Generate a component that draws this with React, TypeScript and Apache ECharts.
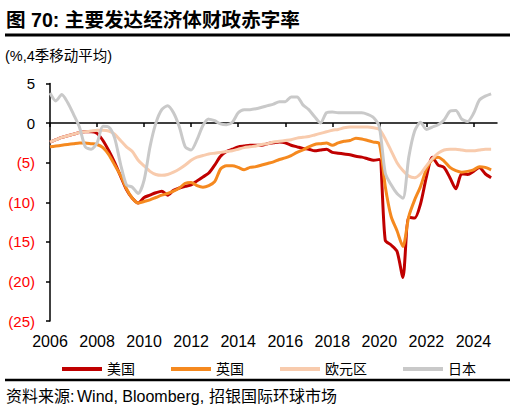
import React, { useEffect, useRef } from "react";
import * as echarts from "echarts";

const tickYears = [2006, 2008, 2010, 2012, 2014, 2016, 2018, 2020, 2022, 2024];
const startYear = 2006;
const stepPerQuarter = 0.25;

const usDeficit = [
  -2.4, -2.1, -1.8, -1.6,
  -1.4, -1.2, -1.1, -1.1,
  -1.3, -2.2, -3.5, -5.0,
  -6.7, -8.4, -9.5, -10.1,
  -9.4, -9.1, -8.8, -8.6,
  -9.1, -8.5, -8.2, -8.0,
  -7.8, -7.3, -6.8, -6.3,
  -5.3, -4.2, -3.6, -3.3,
  -3.0, -2.9, -2.8, -2.8,
  -2.8, -2.6, -2.5, -2.4,
  -2.5, -2.8, -3.0, -3.2,
  -3.3, -3.5, -3.4, -3.3,
  -3.7, -3.8, -3.9, -4.0,
  -4.2, -4.3, -4.5, -4.7,
  -4.6, -14.8, -15.4, -16.2,
  -19.5, -11.9, -12.0, -10.2,
  -6.8, -4.3, -5.3, -5.6,
  -6.9, -8.3, -6.4, -6.5,
  -6.1, -5.6, -6.4, -6.9,
];

const ukDeficit = [
  -3.0, -2.9, -2.8, -2.7,
  -2.6, -2.5, -2.5, -2.6,
  -2.7, -3.1, -4.0, -5.3,
  -6.6, -8.3, -9.5, -10.1,
  -9.9, -9.7, -9.4, -9.1,
  -8.9, -8.6, -8.2, -7.6,
  -7.5, -7.9, -8.1, -7.9,
  -7.4, -5.8, -5.4, -5.4,
  -5.6, -5.9, -5.6, -5.5,
  -5.3, -5.1, -4.9, -4.6,
  -4.4, -4.1, -3.7, -3.4,
  -3.0, -2.7, -2.6, -2.5,
  -2.8, -2.5, -2.3, -2.2,
  -1.9, -2.0, -2.2, -2.4,
  -2.6, -8.0, -11.8, -13.6,
  -15.6, -11.8, -9.7, -8.0,
  -5.8, -4.6, -4.3, -4.8,
  -5.6, -6.0, -6.2, -6.1,
  -5.9, -5.5, -5.6, -5.9,
];

const euroDeficit = [
  -2.4, -2.1, -1.8, -1.6,
  -1.4, -1.2, -1.1, -1.0,
  -0.9, -0.9, -1.0, -1.4,
  -2.2, -3.0, -3.6, -4.7,
  -5.4, -6.1, -6.5, -6.6,
  -6.5, -6.2, -5.8, -5.3,
  -4.7, -4.3, -4.1, -3.9,
  -3.8, -3.7, -3.6, -3.5,
  -3.3, -3.1, -3.0, -2.9,
  -2.7, -2.6, -2.4, -2.3,
  -2.2, -2.1, -1.9, -1.8,
  -1.7, -1.5, -1.3, -1.1,
  -0.9, -0.8, -0.6, -0.5,
  -0.5, -0.5, -0.5, -0.6,
  -0.8, -2.0, -3.5, -5.0,
  -6.0, -6.7, -6.9, -6.4,
  -5.4, -4.5, -3.8, -3.4,
  -3.3, -3.3, -3.4, -3.5,
  -3.5, -3.4, -3.3, -3.3,
];

const japanDeficit = [
  3.8, 2.8, 3.6, 2.6,
  1.1, -0.5, -3.0, -3.3,
  -2.5, -0.4, -0.5, -1.9,
  -5.2, -7.8, -8.1, -8.9,
  -7.2, -3.0, 0.0, 1.7,
  2.2, 1.3, -0.5, -3.0,
  -3.4, -2.1, -0.3, 0.5,
  0.3, -0.1, -0.2, 0.1,
  1.3, 1.7, 1.7, 1.8,
  2.0, 2.2, 2.4, 2.7,
  2.7, 3.3, 3.3, 2.3,
  1.7, 0.8, 0.0, 1.3,
  1.4, 1.3, 1.3, 1.3,
  1.3, 1.3, 1.1, 0.7,
  -0.5, -6.3, -7.8, -8.9,
  -9.5, -4.3, -1.0, 0.1,
  -0.8, -0.5, -0.2, 0.4,
  1.5, 1.6, 0.5, 0.2,
  1.2, 2.9, 3.4, 3.7,
];

const seriesNames = ["美国", "英国", "欧元区", "日本"];
const seriesColors = ["#C00000", "#F5891F", "#F8CBAD", "#C9C9C9"];

const toPoints = (vals: number[]) =>
  vals.map((v, i) => [startYear + i * stepPerQuarter, v]);

const latin = "'Liberation Sans', Arial, sans-serif";
const cjk = "'Liberation Sans', 'Noto Sans CJK SC', sans-serif";

export default function App() {
  const ref = useRef<HTMLDivElement>(null);

  useEffect(() => {
    if (!ref.current) return;
    const chart = echarts.init(ref.current, null, { renderer: "svg" });
    const allData = [usDeficit, ukDeficit, euroDeficit, japanDeficit];

    chart.setOption({
      animation: false,
      backgroundColor: "#ffffff",
      grid: { left: 50, right: 19, top: 83.5, bottom: 92, containLabel: false },
      legend: {
        left: 57,
        top: 357,
        itemWidth: 40,
        itemHeight: 4,
        itemGap: 36,
        icon: "rect",
        textStyle: { fontFamily: cjk, fontSize: 14, color: "#000" },
        data: seriesNames,
      },
      xAxis: [
        {
          type: "value",
          min: 2006,
          max: 2025,
          position: "bottom",
          axisLine: { show: false, onZero: false },
          axisTick: { show: false },
          splitLine: { show: false },
          axisLabel: {
            customValues: tickYears,
            formatter: (v: number) => String(v),
            fontFamily: latin,
            fontSize: 16,
            color: "#000",
            margin: 12,
          },
        },
        {
          type: "value",
          min: 2006,
          max: 2025,
          position: "bottom",
          axisLine: { show: true, onZero: true, lineStyle: { color: "#000", width: 1.5 } },
          axisTick: {
            show: true,
            customValues: tickYears,
            length: 4,
            lineStyle: { color: "#000", width: 1.5 },
          },
          axisLabel: { show: false },
          splitLine: { show: false },
        },
      ],
      yAxis: {
        type: "value",
        min: -25,
        max: 5,
        interval: 5,
        axisLine: { show: true, lineStyle: { color: "#000", width: 1.5 } },
        axisTick: { show: true, length: 4, lineStyle: { color: "#000", width: 1.5 } },
        splitLine: { show: false },
        axisLabel: {
          fontFamily: latin,
          fontSize: 15,
          margin: 15,
          formatter: (v: number) => (v < 0 ? `(${-v})` : String(v)),
          color: (v: any) => (Number(v) < 0 ? "#FF0000" : "#000000"),
        },
      },
      series: allData.map((d, i) => ({
        name: seriesNames[i],
        type: "line",
        xAxisIndex: 0,
        data: toPoints(d),
        symbol: "none",
        smooth: 0.25,
        lineStyle: { color: seriesColors[i], width: 3 },
        itemStyle: { color: seriesColors[i] },
        z: 2 + i,
      })),
      graphic: [
        {
          type: "text",
          left: 6,
          top: 10,
          style: {
            text: "图 70: 主要发达经济体财政赤字率",
            font: `bold 19.6px ${cjk}`,
            fill: "#000",
          },
        },
        {
          type: "rect",
          shape: { x: 5, y: 33.5, width: 505, height: 3 },
          style: { fill: "#000" },
        },
        {
          type: "text",
          left: 5,
          top: 49,
          style: {
            text: "(%,4季移动平均)",
            font: `14.5px ${cjk}`,
            fill: "#000",
          },
        },
        {
          type: "rect",
          shape: { x: 5, y: 378.8, width: 505, height: 2.5 },
          style: { fill: "#000" },
        },
        {
          type: "text",
          left: 6,
          top: 388,
          style: {
            text: "资料来源:",
            font: `16px ${cjk}`,
            fill: "#000",
          },
        },
        {
          type: "text",
          left: 77,
          top: 388,
          style: {
            text: "Wind, Bloomberg,",
            font: `16px ${latin}`,
            fill: "#000",
          },
        },
        {
          type: "text",
          left: 209,
          top: 388,
          style: {
            text: "招银国际环球市场",
            font: `16px ${cjk}`,
            fill: "#000",
          },
        },
      ],
    });

    return () => chart.dispose();
  }, []);

  return (
    <div
      ref={ref}
      style={{ position: "fixed", left: 0, top: 0, width: 516, height: 413 }}
    />
  );
}
